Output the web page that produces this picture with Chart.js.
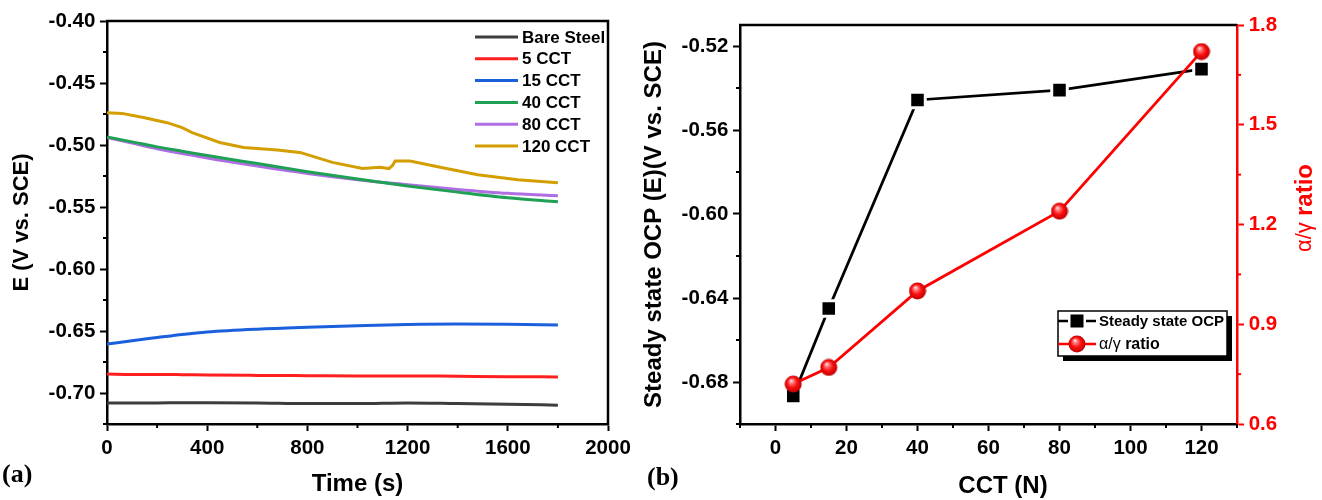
<!DOCTYPE html>
<html>
<head>
<meta charset="utf-8">
<script src="https://cdn.jsdelivr.net/npm/chart.js@4.4.1/dist/chart.umd.min.js"></script>
<style>
body { margin: 0; background: #fff; }
#wrap { position: relative; width: 1322px; height: 500px; }
#chartA { position: absolute; left: 0; top: 0; }
#chartB { position: absolute; left: 640px; top: 0; }
</style>
</head>
<body>
<div id="wrap">
  <canvas id="chartA" width="640" height="500"></canvas>
  <canvas id="chartB" width="682" height="500"></canvas>
</div>
<script>
// ---- panel (a): OCP vs time ----
const timeS = [0, 100, 200, 300, 400, 600, 800, 1000, 1200, 1400, 1600, 1800];
const bareSteel = [-0.708, -0.708, -0.708, -0.7078, -0.7078, -0.708, -0.7085, -0.7085, -0.708, -0.7085, -0.709, -0.7098];
const cct5 = [-0.6847, -0.685, -0.685, -0.6852, -0.6855, -0.6858, -0.686, -0.6862, -0.6862, -0.6865, -0.6868, -0.687];
const cct15 = [-0.6605, -0.6578, -0.6553, -0.6528, -0.6508, -0.6485, -0.647, -0.6458, -0.6448, -0.6444, -0.6446, -0.6452];
const cct40 = [-0.4935, -0.4975, -0.5015, -0.505, -0.5085, -0.515, -0.5215, -0.5275, -0.533, -0.538, -0.5425, -0.5458];
const cct80 = [-0.494, -0.4985, -0.503, -0.5068, -0.5105, -0.517, -0.523, -0.528, -0.532, -0.5358, -0.539, -0.541];
const time120 = [0, 60, 150, 240, 300, 340, 450, 545, 680, 770, 900, 1020, 1090, 1125, 1140, 1150, 1210, 1330, 1480, 1640, 1800];
const cct120 = [-0.474, -0.4745, -0.478, -0.482, -0.486, -0.49, -0.498, -0.502, -0.504, -0.506, -0.514, -0.519, -0.518, -0.519, -0.5165, -0.513, -0.513, -0.518, -0.524, -0.528, -0.5305];
const namesA = ['Bare Steel', '5 CCT', '15 CCT', '40 CCT', '80 CCT', '120 CCT'];
const colorsA = ['#3d3d3d', '#ff1f1f', '#1a5fdc', '#1fa055', '#b06ee4', '#d39e00'];
const timeTicks = [0, 400, 800, 1200, 1600, 2000];
const timeMinor = [200, 600, 1000, 1400, 1800];
const eTicks = [-0.70, -0.65, -0.60, -0.55, -0.50, -0.45, -0.40];
const eMinor = [-0.725, -0.675, -0.625, -0.575, -0.525, -0.475, -0.425];

// ---- panel (b): steady state OCP and alpha/gamma ratio vs CCT ----
const cctLoads = [5, 15, 40, 80, 120];
const ocpSteady = [-0.6867, -0.645, -0.5457, -0.541, -0.531];
const alphaGamma = [0.72, 0.77, 1.0, 1.24, 1.72];
const cctTicks = [0, 20, 40, 60, 80, 100, 120];
const cctMinor = [-10, 10, 30, 50, 70, 90, 110, 130];
const ocpTicks = [-0.68, -0.64, -0.60, -0.56, -0.52];
const ocpMinor = [-0.70, -0.66, -0.62, -0.58, -0.54];
const ratioTicks = [0.6, 0.9, 1.2, 1.5, 1.8];
const ratioMinor = [0.75, 1.05, 1.35, 1.65];

const SANS = '"Liberation Sans", Arial, sans-serif';
const SERIF = '"Liberation Serif", "Times New Roman", serif';
Chart.defaults.font.family = SANS;
Chart.defaults.color = '#000';

function pairs(xs, ys) {
  return xs.map((x, i) => ({ x: x, y: ys[i] }));
}

function drawMinor(chart, id, values, color) {
  const s = chart.scales[id];
  const a = chart.chartArea;
  const ctx = chart.ctx;
  ctx.save();
  ctx.strokeStyle = color;
  ctx.lineWidth = 2;
  values.forEach(v => {
    const p = s.getPixelForValue(v);
    ctx.beginPath();
    if (s.isHorizontal()) { ctx.moveTo(p, a.bottom); ctx.lineTo(p, a.bottom + 4); }
    else if (s.position === 'left') { ctx.moveTo(a.left, p); ctx.lineTo(a.left - 4, p); }
    else { ctx.moveTo(a.right, p); ctx.lineTo(a.right + 4, p); }
    ctx.stroke();
  });
  ctx.restore();
}

function makeSphere(d) {
  const c = document.createElement('canvas');
  c.width = d; c.height = d;
  const g = c.getContext('2d');
  const r = d / 2;
  const grad = g.createRadialGradient(r * 0.75, r * 0.6, 0, r, r, r);
  grad.addColorStop(0, '#ffffff');
  grad.addColorStop(0.2, '#ff8a8a');
  grad.addColorStop(0.55, '#ff1010');
  grad.addColorStop(1, '#b40000');
  g.fillStyle = grad;
  g.beginPath();
  g.arc(r, r, r - 0.5, 0, Math.PI * 2);
  g.fill();
  return c;
}
const sphere = makeSphere(18);

function axisOpts(ticks, fmt, color) {
  return {
    type: 'linear',
    afterBuildTicks: s => { s.ticks = ticks.map(v => ({ value: v })); },
    ticks: { callback: fmt, color: color, font: { size: 20.5, weight: 'bold' }, padding: 4.7 },
    grid: { drawOnChartArea: false, drawTicks: true, tickLength: 7, tickWidth: 2, tickColor: color },
    border: { display: true, color: color, width: 2.5 }
  };
}

// ---------- chart (a) ----------
const dataA = [timeS, timeS, timeS, timeS, timeS, time120];
const valsA = [bareSteel, cct5, cct15, cct40, cct80, cct120];

const panelA = {
  id: 'panelA',
  afterDraw(chart) {
    const ctx = chart.ctx;
    const a = chart.chartArea;
    ctx.save();
    ctx.strokeStyle = '#000';
    ctx.lineWidth = 2.5;
    ctx.beginPath();
    ctx.moveTo(a.left - 1, a.top);
    ctx.lineTo(a.right, a.top);
    ctx.lineTo(a.right, a.bottom + 1);
    ctx.stroke();
    ctx.restore();
    drawMinor(chart, 'x', timeMinor, '#000');
    drawMinor(chart, 'y', eMinor, '#000');

    // legend
    ctx.save();
    ctx.font = 'bold 17px ' + SANS;
    ctx.textBaseline = 'middle';
    ctx.textAlign = 'left';
    namesA.forEach((n, i) => {
      const y = 37 + i * 21.8;
      ctx.strokeStyle = colorsA[i];
      ctx.lineWidth = 3;
      ctx.beginPath();
      ctx.moveTo(475, y);
      ctx.lineTo(518, y);
      ctx.stroke();
      ctx.fillStyle = '#000';
      ctx.fillText(n, 522, y + 1);
    });
    ctx.font = 'bold 26px ' + SERIF;
    ctx.fillText('(a)', 2, 475);
    ctx.restore();
  }
};

new Chart(document.getElementById('chartA'), {
  type: 'line',
  data: {
    datasets: namesA.map((n, i) => ({
      label: n,
      data: pairs(dataA[i], valsA[i]),
      borderColor: colorsA[i],
      borderWidth: 3,
      pointRadius: 0,
      cubicInterpolationMode: i === 5 ? 'default' : 'monotone',
      tension: i === 5 ? 0 : 0.4
    }))
  },
  options: {
    responsive: false,
    animation: false,
    events: [],
    layout: { padding: { top: 21, right: 32, bottom: 0, left: 0 } },
    plugins: { legend: { display: false }, tooltip: { enabled: false } },
    scales: {
      x: Object.assign(axisOpts(timeTicks, v => String(v), '#000'), {
        position: 'bottom', min: 0, max: 2000,
        afterFit: s => { s.height = 76; },
        title: { display: true, text: 'Time (s)', font: { size: 24, weight: 'bold' }, padding: { top: 0, bottom: 1 } }
      }),
      y: Object.assign(axisOpts(eTicks, v => v.toFixed(2), '#000'), {
        position: 'left', min: -0.725, max: -0.40,
        afterFit: s => { s.width = 107; },
        title: { display: true, text: 'E (V vs. SCE)', font: { size: 22, weight: 'bold' }, padding: { top: 9, bottom: 0 } }
      })
    }
  },
  plugins: [panelA]
});

// ---------- chart (b) ----------
const panelB = {
  id: 'panelB',
  afterDraw(chart) {
    const ctx = chart.ctx;
    const a = chart.chartArea;
    ctx.save();
    ctx.strokeStyle = '#000';
    ctx.lineWidth = 2.5;
    ctx.beginPath();
    ctx.moveTo(a.left - 1, a.top);
    ctx.lineTo(a.right, a.top);
    ctx.stroke();
    ctx.restore();
    drawMinor(chart, 'x', cctMinor, '#000');
    drawMinor(chart, 'y', ocpMinor, '#000');
    drawMinor(chart, 'y2', ratioMinor, '#ff0000');

    ctx.save();
    // x title
    ctx.fillStyle = '#000';
    ctx.font = 'bold 24px ' + SANS;
    ctx.textAlign = 'center';
    ctx.textBaseline = 'middle';
    ctx.fillText('CCT (N)', 363, 486);

    // right axis title (reads bottom to top)
    ctx.translate(665, 208);
    ctx.rotate(-Math.PI / 2);
    ctx.fillStyle = '#ff0000';
    ctx.textAlign = 'left';
    const f1 = '22px ' + SANS, f2 = 'bold 24px ' + SANS;
    ctx.font = f1; const w1 = ctx.measureText('α/γ ').width;
    ctx.font = f2; const w2 = ctx.measureText('ratio').width;
    ctx.font = f1; ctx.fillText('α/γ ', -(w1 + w2) / 2, 0);
    ctx.font = f2; ctx.fillText('ratio', -(w1 + w2) / 2 + w1, 0);
    ctx.restore();

    // legend box
    ctx.save();
    const bx = 418, by = 311, bw = 169, bh = 45;
    ctx.fillStyle = '#000';
    ctx.fillRect(bx + 5, by + 5, bw, bh);
    ctx.fillStyle = '#fff';
    ctx.fillRect(bx, by, bw, bh);
    ctx.strokeStyle = '#000';
    ctx.lineWidth = 1.5;
    ctx.strokeRect(bx, by, bw, bh);

    ctx.lineWidth = 2.5;
    ctx.strokeStyle = '#000';
    ctx.beginPath(); ctx.moveTo(bx, 321); ctx.lineTo(bx + 38, 321); ctx.stroke();
    ctx.fillStyle = '#fff';
    ctx.fillRect(437 - 9, 321 - 9, 18, 18);
    ctx.fillStyle = '#000';
    ctx.fillRect(437 - 6.5, 321 - 6.5, 13, 13);

    ctx.strokeStyle = '#ff0000';
    ctx.beginPath(); ctx.moveTo(bx, 344); ctx.lineTo(bx + 38, 344); ctx.stroke();
    ctx.drawImage(sphere, 437 - 9, 344 - 9, 18, 18);

    ctx.fillStyle = '#000';
    ctx.textBaseline = 'middle';
    ctx.textAlign = 'left';
    ctx.font = 'bold 15px ' + SANS;
    ctx.fillText('Steady state OCP', 459, 322);
    ctx.font = '16px ' + SANS;
    ctx.fillText('α/γ', 459, 345);
    const wag = ctx.measureText('α/γ ').width;
    ctx.font = 'bold 16px ' + SANS;
    ctx.fillText('ratio', 459 + wag, 345);

    ctx.font = 'bold 26px ' + SERIF;
    ctx.fillText('(b)', 7, 478);
    ctx.restore();
  }
};

new Chart(document.getElementById('chartB'), {
  type: 'line',
  data: {
    datasets: [
      {
        label: 'Steady state OCP',
        data: pairs(cctLoads, ocpSteady),
        yAxisID: 'y',
        borderColor: '#000',
        borderWidth: 2.8,
        pointStyle: 'rect',
        pointRadius: 11,
        pointBackgroundColor: '#000',
        pointBorderColor: '#fff',
        pointBorderWidth: 3,
        order: 1
      },
      {
        label: 'α/γ ratio',
        data: pairs(cctLoads, alphaGamma),
        yAxisID: 'y2',
        borderColor: '#ff0000',
        borderWidth: 2.8,
        pointStyle: sphere,
        pointRadius: 9,
        order: 0
      }
    ]
  },
  options: {
    responsive: false,
    animation: false,
    events: [],
    layout: { padding: { top: 25, right: 0, bottom: 0, left: 0 } },
    plugins: { legend: { display: false }, tooltip: { enabled: false } },
    scales: {
      x: Object.assign(axisOpts(cctTicks, v => String(v), '#000'), {
        position: 'bottom', min: -10, max: 130,
        afterFit: s => { s.height = 76; },
        title: { display: false }
      }),
      y: Object.assign(axisOpts(ocpTicks, v => v.toFixed(2), '#000'), {
        position: 'left', min: -0.70, max: -0.51,
        afterFit: s => { s.width = 100; },
        title: { display: true, text: 'Steady state OCP (E)(V vs. SCE)', font: { size: 24, weight: 'bold' }, padding: { top: 0, bottom: 0 } }
      }),
      y2: Object.assign(axisOpts(ratioTicks, v => v.toFixed(1), '#ff0000'), {
        position: 'right', min: 0.6, max: 1.8,
        afterFit: s => { s.width = 85; }
      })
    }
  },
  plugins: [panelB]
});
</script>
</body>
</html>
